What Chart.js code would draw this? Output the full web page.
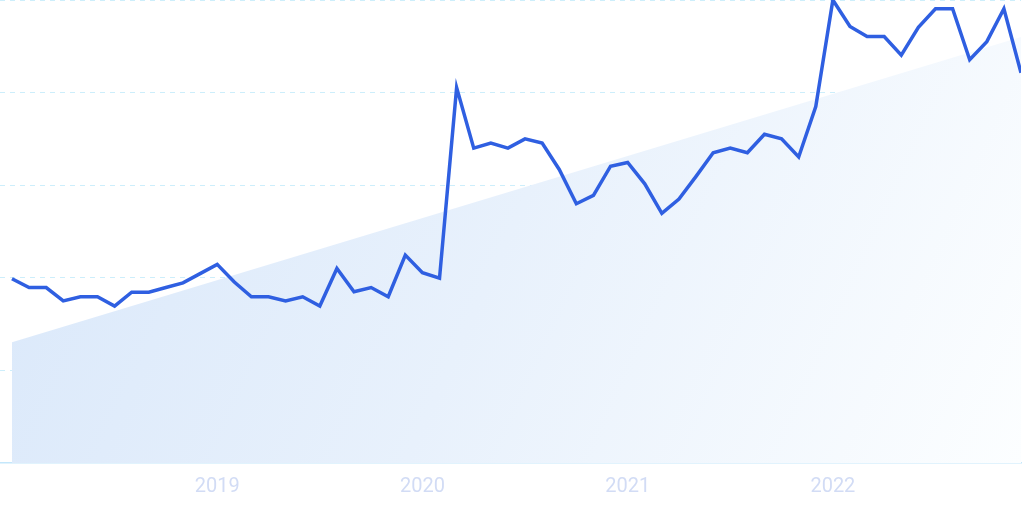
<!DOCTYPE html>
<html>
<head>
<meta charset="utf-8">
<style>
  html, body { margin: 0; padding: 0; background: #ffffff; }
  #wrap { width: 1024px; height: 511px; }
</style>
<script src="https://cdn.jsdelivr.net/npm/chart.js@4/dist/chart.umd.min.js"></script>
</head>
<body>
<div id="wrap"><canvas id="trendChart"></canvas></div>
<script>
// Monthly search interest, Jan 2018 - Dec 2022 (index 0 = Jan 2018)
const interest = [
    39.8, 37.9, 37.9, 35.0, 35.9, 35.9, 33.9, 36.9, 36.9, 37.9, 38.9, 40.9,
    42.9, 39.1, 35.9, 35.9, 35.0, 35.9, 33.9, 42.0, 37.0, 37.9, 35.9, 44.9,
    41.1, 39.9, 81.1, 68.0, 69.1, 68.0, 70.0, 69.1, 63.4, 56.0, 57.8, 64.1,
    64.9, 60.3, 53.9, 57.0, 61.9, 67.0, 68.0, 67.0, 71.0, 70.0, 66.1, 77.0,
    100, 94.3, 92.1, 92.1, 88.1, 94.1, 98.1, 98.1, 87.1, 91.0, 98.1, 84.3
];

// Trend line: value at first and last month
const trendStart = 26.1;
const trendEnd = 92.0;

// X axis ticks (month index) and their labels
const yearTicks = [12, 24, 36, 48];
const yearLabels = ["2019", "2020", "2021", "2022"];

// Build point lists for the chart
const linePoints = interest.map((v, i) => ({ x: i, y: v }));
const trendPoints = [
    { x: 0, y: trendStart },
    { x: interest.length - 1, y: trendEnd },
];

function trendFill(context) {
    const area = context.chart.chartArea;
    if (!area) return "rgba(220, 234, 251, 0.9)";
    const ctx = context.chart.ctx;
    const g = ctx.createLinearGradient(area.left, area.top, area.right, area.bottom);
    g.addColorStop(0, "rgba(216, 231, 250, 1)");
    g.addColorStop(0.5, "rgba(232, 241, 252, 1)");
    g.addColorStop(1, "rgba(252, 254, 255, 1)");
    return g;
}

const ctx = document.getElementById("trendChart").getContext("2d");
new Chart(ctx, {
    type: "line",
    data: {
        datasets: [
            {
                label: "Interest",
                data: linePoints,
                borderColor: "#2f5fe1",
                borderWidth: 3.5,
                pointRadius: 0,
                tension: 0,
                fill: false,
                order: 0,
            },
            {
                label: "Trend",
                data: trendPoints,
                borderWidth: 0,
                borderColor: "rgba(0,0,0,0)",
                backgroundColor: trendFill,
                pointRadius: 0,
                fill: "origin",
                order: 1,
            },
        ],
    },
    options: {
        responsive: true,
        maintainAspectRatio: false,
        animation: false,
        layout: { padding: { left: 0, right: 3, top: 0, bottom: 0 } },
        plugins: {
            legend: { display: false },
            tooltip: { enabled: false },
        },
        scales: {
            x: {
                type: "linear",
                min: -0.7,
                max: interest.length - 1,
                afterBuildTicks: (axis) => {
                    axis.ticks = yearTicks.map((v) => ({ value: v }));
                },
                ticks: {
                    color: "#d2dcf5",
                    padding: 12,
                    maxRotation: 0,
                    font: { family: "Roboto", size: 20 },
                    callback: (value) => {
                        const idx = yearTicks.indexOf(value);
                        return idx >= 0 ? yearLabels[idx] : "";
                    },
                },
                grid: { display: false, drawTicks: false },
                border: { display: true, color: "#c4e7fb", width: 1.5 },
            },
            y: {
                min: 0,
                max: 100,
                ticks: { display: false, stepSize: 20 },
                grid: {
                    drawTicks: false,
                    color: (c) => (c.tick && c.tick.value === 0 ? "rgba(0,0,0,0)" : "#cdeefb"),
                    lineWidth: 1,
                },
                border: { display: false, dash: [5, 5] },
            },
        },
    },
});
</script>
</body>
</html>
